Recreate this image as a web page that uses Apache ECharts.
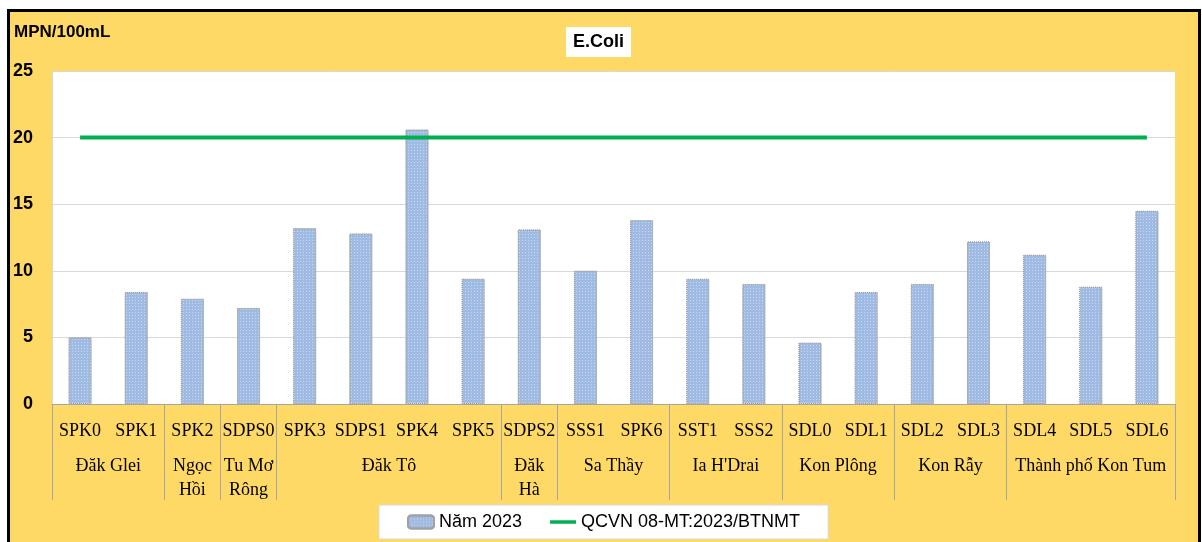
<!DOCTYPE html>
<html><head><meta charset="utf-8">
<script src="https://cdn.jsdelivr.net/npm/echarts@6/dist/echarts.min.js"></script>
<style>
html,body{margin:0;padding:0;background:#fff;width:1202px;height:542px;overflow:hidden}
#frame{position:absolute;left:7px;top:9px;width:1194px;height:545px;border:3px solid #000;background:#FFD966;box-sizing:border-box}
#chart{position:absolute;left:0;top:0;width:1202px;height:542px}
</style></head><body>
<div id="frame"></div><div id="chart"></div>
<script>
const categories = ['SPK0','SPK1','SPK2','SDPS0','SPK3','SDPS1','SPK4','SPK5','SDPS2','SSS1','SPK6','SST1','SSS2','SDL0','SDL1','SDL2','SDL3','SDL4','SDL5','SDL6'];
const values2023 = [5.0, 8.4, 7.9, 7.2, 13.2, 12.8, 20.6, 9.4, 13.1, 10.0, 13.8, 9.4, 9.0, 4.6, 8.4, 9.0, 12.2, 11.2, 8.8, 14.5];
const qcvnValues = [20,20,20,20,20,20,20,20,20,20,20,20,20,20,20,20,20,20,20,20];
const groupNames = ['Đăk Glei','Ngọc\nHồi','Tu Mơ\nRông','Đăk Tô','Đăk\nHà','Sa Thầy','Ia H\'Drai','Kon Plông','Kon Rẫy','Thành phố Kon Tum'];
const groupSizes = [2,1,1,4,1,2,2,2,2,3];
const yTicks = [0,5,10,15,20,25];

const boundaries = [0];
const centers = [];
const centerName = {};
groupSizes.forEach((s,i)=>{
  const start = boundaries[boundaries.length-1];
  const c = start + s/2;
  centers.push(c);
  centerName[c] = groupNames[i];
  boundaries.push(start + s);
});

const chart = echarts.init(document.getElementById('chart'), null, {renderer:'canvas'});
const serif = 'Liberation Serif';
const sans = 'Liberation Sans';
chart.setOption({
  backgroundColor: 'transparent',
  animation: false,
  title: {
    text: 'E.Coli', left: 566, top: 27, backgroundColor: '#fff', padding: [6, 7, 6, 7],
    textStyle: {fontFamily: sans, fontWeight: 'bold', fontSize: 18, color: '#000'}
  },
  graphic: [{
    type: 'text', left: 14, top: 24,
    style: {text: 'MPN/100mL', fontFamily: sans, fontWeight: 'bold', fontSize: 17, fill: '#000'}
  }],
  legend: {
    left: 379, top: 505, backgroundColor: '#fff', borderColor: '#d9d9d9', borderWidth: 1,
    padding: [8, 28, 8, 28], itemWidth: 26, itemHeight: 13, itemGap: 28,
    textStyle: {fontFamily: sans, fontSize: 18, color: '#000'},
    data: [
      {name: 'Năm 2023'},
      {name: 'QCVN 08-MT:2023/BTNMT', icon: 'path://M0,0 L30,0 L30,4 L0,4 Z'}
    ]
  },
  grid: {left: 52, right: 27, top: 71, bottom: 138, show: true, backgroundColor: '#fff', borderWidth: 0},
  xAxis: [{
    type: 'category', data: categories, position: 'bottom',
    axisLine: {lineStyle: {color: '#a6a6a6'}},
    axisTick: {show: false},
    axisLabel: {interval: 0, margin: 18, fontFamily: serif, fontSize: 18, color: '#000'}
  }, {
    type: 'value', min: 0, max: 20, position: 'bottom',
    axisLine: {show: false}, splitLine: {show: false},
    axisTick: {show: true, customValues: boundaries, length: 96, lineStyle: {color: '#a6a6a6'}},
    axisLabel: {customValues: centers, formatter: v => centerName[v] || '', margin: 50,
      fontFamily: serif, fontSize: 18, lineHeight: 24, color: '#000', verticalAlign: 'top', align: 'center'}
  }],
  yAxis: {
    type: 'value', min: 0, max: 25, interval: 5,
    axisLine: {show: true, lineStyle: {color: '#d9d9d9'}},
    axisTick: {show: false},
    splitLine: {lineStyle: {color: '#d9d9d9'}},
    axisLabel: {margin: 19, fontFamily: sans, fontWeight: 'bold', fontSize: 18, color: '#000',
      customValues: yTicks}
  },
  series: [{
    name: 'Năm 2023', type: 'bar', data: values2023, barWidth: 23, xAxisIndex: 0,
    itemStyle: {
      color: '#9fbae3', borderColor: '#a0a0a0', borderWidth: 1, borderType: 'dotted',
      decal: {symbol: 'rect', symbolSize: 1, dashArrayX: [[1, 2]], dashArrayY: [1, 2], color: 'rgba(255,255,255,0.45)', rotation: 0}
    }
  }, {
    name: 'QCVN 08-MT:2023/BTNMT', type: 'line', data: qcvnValues, xAxisIndex: 0,
    symbol: 'none', lineStyle: {color: '#00B050', width: 4}, itemStyle: {color: '#00B050'}, z: 5
  }]
});
</script>
</body></html>
